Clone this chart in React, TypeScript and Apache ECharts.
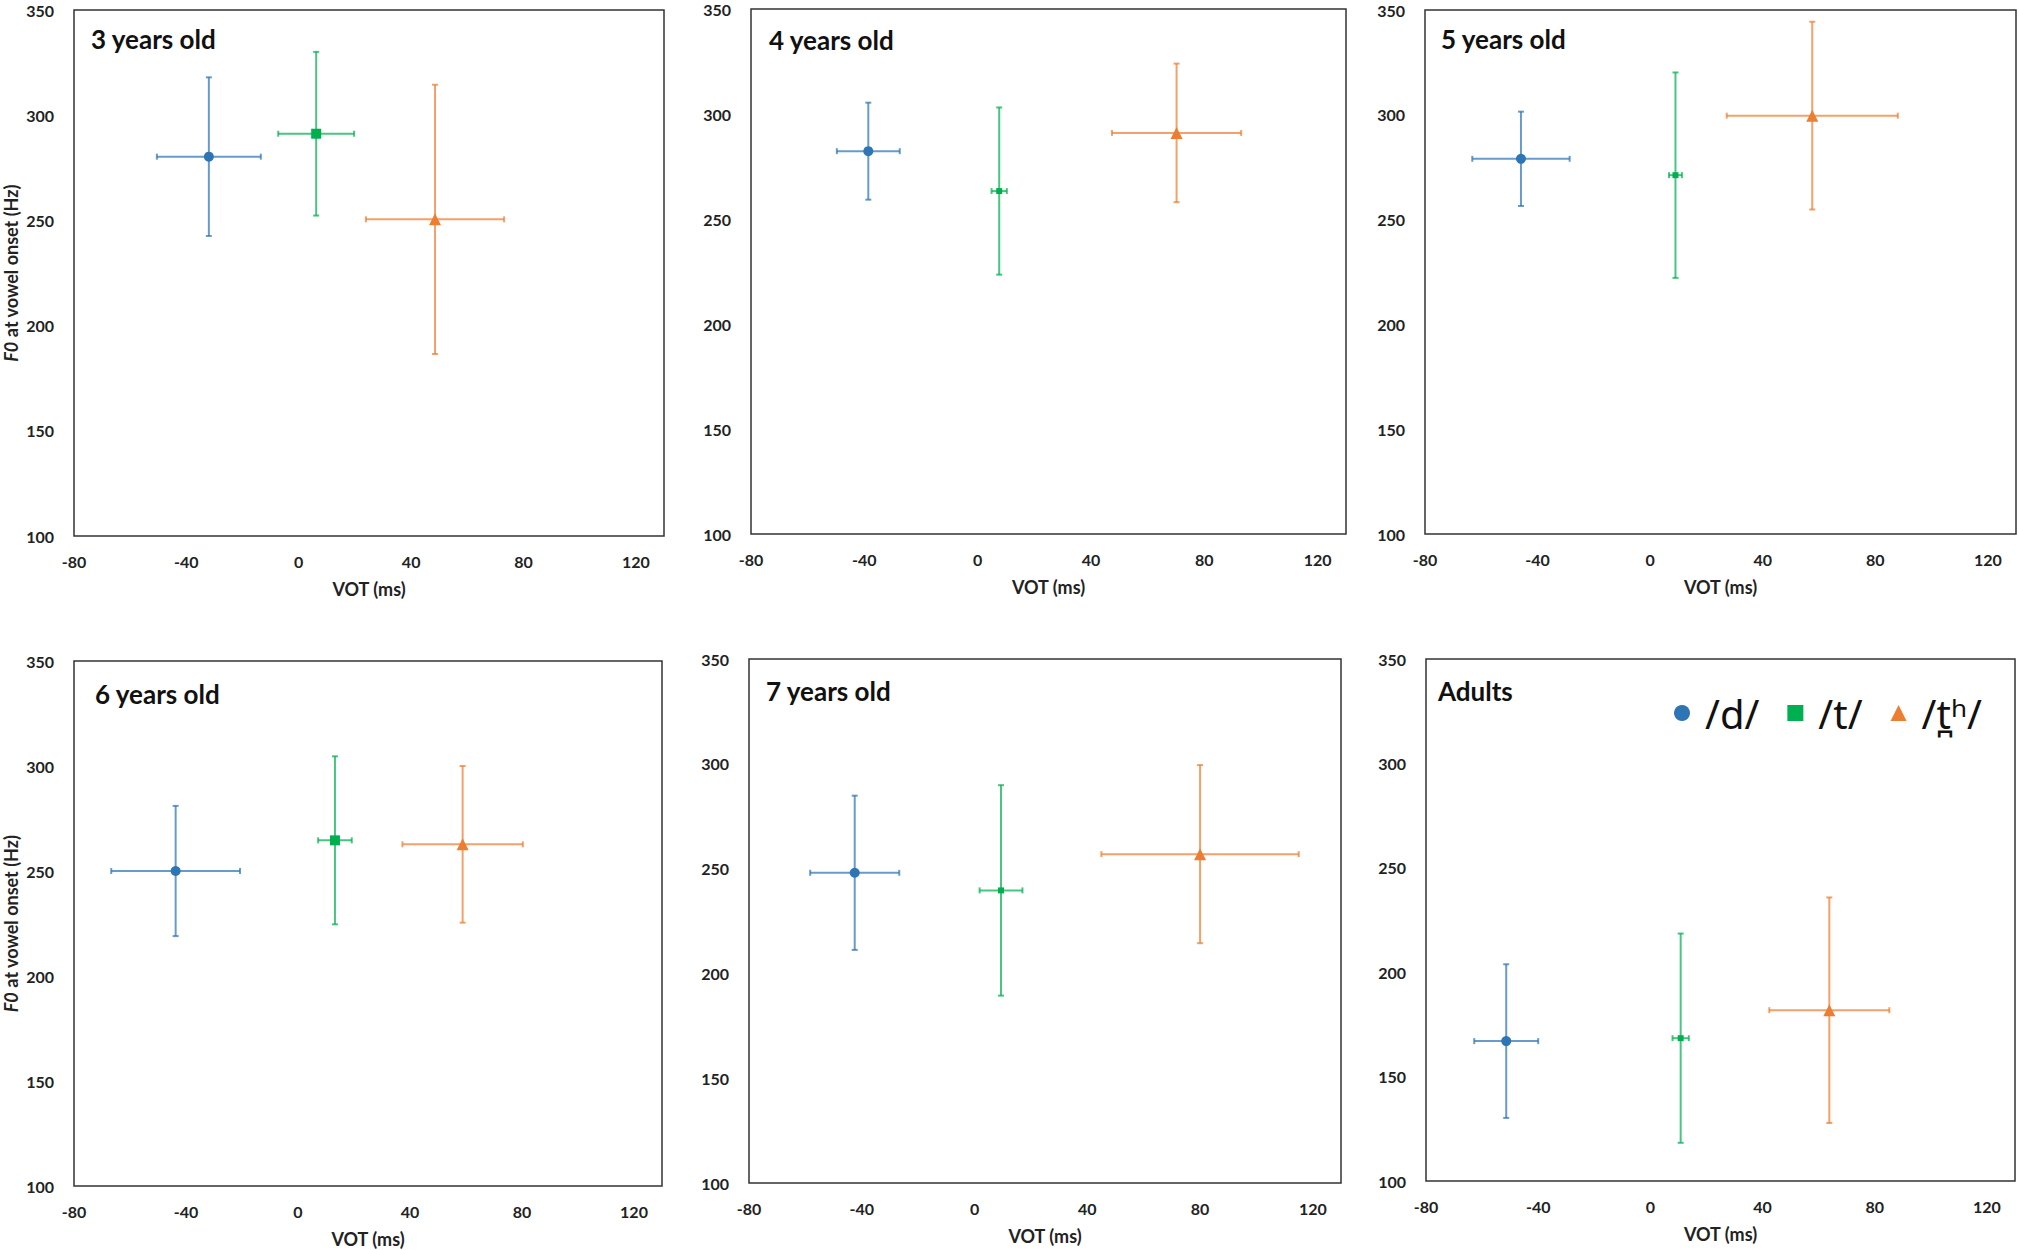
import React, { useEffect, useRef } from "react";
import * as echarts from "echarts";

// Panel titles
const panelTitles = ["3 years old", "4 years old", "5 years old", "6 years old", "7 years old", "Adults"];

// /d/ : mean VOT (ms), SD VOT, mean F0 (Hz), SD F0
const dVot = [-32, -38.6, -45.9, -43.7, -42.5, -51.4];
const dVotSd = [18.5, 11.1, 17.3, 23, 15.8, 11.4];
const dF0 = [280.3, 282.3, 279, 250, 248, 167];
const dF0Sd = [37.7, 23.1, 22.5, 31, 36.8, 36.8];

// /t/
const tVot = [6.2, 7.6, 9, 13.2, 9.4, 10.8];
const tVotSd = [13.5, 2.7, 2.3, 6, 7.6, 2.9];
const tF0 = [291.2, 263.3, 271.2, 264.6, 239.6, 168.4];
const tF0Sd = [38.9, 39.8, 49, 40, 50.2, 50.1];

// /t̪ʰ/
const thVot = [48.5, 70.2, 57.6, 58.8, 80, 63.8];
const thVotSd = [24.6, 22.8, 30.4, 21.5, 35, 21.4];
const thF0 = [250.5, 291, 299.6, 262.7, 256.9, 181.8];
const thF0Sd = [64, 33, 44.8, 37.3, 42.5, 54];

// Axis ticks
const xMin = -80;
const xMax = 130;
const xInterval = 40;
const yMin = 100;
const yMax = 350;
const yInterval = 50;

const legendNames = ["/d/", "/t/", "/t\u032A\u02B0/"];

// Layout (px)
const grids = [
  { left: 74, top: 10, width: 590, height: 526 },
  { left: 751, top: 9, width: 595, height: 525 },
  { left: 1425, top: 10, width: 591, height: 524 },
  { left: 74, top: 661, width: 588, height: 525 },
  { left: 749, top: 659, width: 592, height: 524 },
  { left: 1426, top: 659, width: 589, height: 522 },
];
const titlePos = [
  { left: 91, top: 26 },
  { left: 769, top: 27 },
  { left: 1441, top: 26 },
  { left: 95, top: 681 },
  { left: 766, top: 678 },
  { left: 1438, top: 678 },
];

const COLORS = ["#2E75B6", "#00B050", "#ED7D31"];
const SYMBOLS = ["circle", "rect", "triangle"];
const greenSizes = [10, 6, 6, 10, 6, 6];

const FONT = "Lato, 'Noto Sans', sans-serif";

export default function App() {
  const ref = useRef<HTMLDivElement>(null);

  useEffect(() => {
    if (!ref.current) return;
    const chart = echarts.init(ref.current, null, { renderer: "svg" });

    const groups = [
      { vot: dVot, votSd: dVotSd, f0: dF0, f0Sd: dF0Sd },
      { vot: tVot, votSd: tVotSd, f0: tF0, f0Sd: tF0Sd },
      { vot: thVot, votSd: thVotSd, f0: thF0, f0Sd: thF0Sd },
    ];

    const makeErrRender = (color: string) => (params: any, api: any) => {
      const x = api.value(0);
      const y = api.value(1);
      const xe = api.value(2);
      const ye = api.value(3);
      const L = api.coord([x - xe, y]);
      const R = api.coord([x + xe, y]);
      const T = api.coord([x, y + ye]);
      const B = api.coord([x, y - ye]);
      const cap = 3;
      const style = { stroke: color, lineWidth: 2, opacity: 0.72 };
      const ln = (x1: number, y1: number, x2: number, y2: number) => ({
        type: "line",
        shape: { x1, y1, x2, y2 },
        style,
      });
      return {
        type: "group",
        children: [
          ln(L[0], L[1], R[0], R[1]),
          ln(L[0], L[1] - cap, L[0], L[1] + cap),
          ln(R[0], R[1] - cap, R[0], R[1] + cap),
          ln(T[0], T[1], B[0], B[1]),
          ln(T[0] - cap, T[1], T[0] + cap, T[1]),
          ln(B[0] - cap, B[1], B[0] + cap, B[1]),
        ],
      };
    };

    const series: any[] = [];
    panelTitles.forEach((_, p) => {
      groups.forEach((g, k) => {
        series.push({
          type: "custom",
          name: "err" + p + "_" + k,
          xAxisIndex: p,
          yAxisIndex: p,
          z: 2,
          silent: true,
          encode: { x: 0, y: 1 },
          renderItem: makeErrRender(COLORS[k]),
          data: [[g.vot[p], g.f0[p], g.votSd[p], g.f0Sd[p]]],
        });
      });
      groups.forEach((g, k) => {
        const size = k === 0 ? 10 : k === 1 ? greenSizes[p] : 12;
        series.push({
          type: "scatter",
          name: legendNames[k],
          xAxisIndex: p,
          yAxisIndex: p,
          z: 5,
          symbol: SYMBOLS[k],
          symbolSize: size,
          itemStyle: { color: COLORS[k], opacity: 1 },
          data: [[g.vot[p], g.f0[p]]],
        });
      });
    });

    const labelStyle = {
      color: "#222",
      fontFamily: FONT,
      fontWeight: "bold" as const,
      fontSize: 16,
    };

    const option: any = {
      animation: false,
      backgroundColor: "#fff",
      textStyle: { fontFamily: FONT },
      title: panelTitles.map((t, i) => ({
        text: t,
        left: titlePos[i].left,
        top: titlePos[i].top,
        padding: 0,
        textStyle: { fontFamily: FONT, fontWeight: "bold", fontSize: 26, color: "#111" },
      })),
      legend: {
        left: 1669,
        top: 688,
        orient: "horizontal",
        itemWidth: 16,
        itemHeight: 16,
        itemGap: 28,
        selectedMode: false,
        data: legendNames.map((n, k) => ({ name: n, icon: SYMBOLS[k] })),
        textStyle: {
          fontFamily: "'Noto Sans', 'DejaVu Sans', sans-serif",
          fontSize: 40,
          color: "#111",
          padding: [0, 0, 0, 10],
        },
      },
      grid: grids.map((g) => ({
        ...g,
        show: true,
        borderColor: "#333",
        borderWidth: 1.5,
        backgroundColor: "transparent",
        containLabel: false,
      })),
      xAxis: grids.map((_, i) => ({
        type: "value",
        gridIndex: i,
        min: xMin,
        max: xMax,
        interval: xInterval,
        name: "VOT (ms)",
        nameLocation: "middle",
        nameGap: 44,
        nameTextStyle: { color: "#222", fontFamily: FONT, fontWeight: "bold", fontSize: 18 },
        axisLine: { show: false },
        axisTick: { show: false },
        splitLine: { show: false },
        axisLabel: {
          ...labelStyle,
          margin: 17,
          formatter: (v: number) => (v % xInterval === 0 ? String(v) : ""),
        },
      })),
      yAxis: grids.map((_, i) => ({
        type: "value",
        gridIndex: i,
        min: yMin,
        max: yMax,
        interval: yInterval,
        name: i === 0 || i === 3 ? "{i|F0} at vowel onset (Hz)" : "",
        nameLocation: "middle",
        nameGap: 54,
        nameTextStyle: {
          color: "#222",
          fontFamily: FONT,
          fontWeight: "bold",
          fontSize: 18,
          rich: {
            i: { fontStyle: "italic", fontWeight: "bold", fontSize: 18, fontFamily: FONT, color: "#222" },
          },
        },
        axisLine: { show: false },
        axisTick: { show: false },
        splitLine: { show: false },
        axisLabel: { ...labelStyle, margin: 20 },
      })),
      series,
    };

    chart.setOption(option);
    return () => chart.dispose();
  }, []);

  return (
    <div
      ref={ref}
      style={{ position: "fixed", left: 0, top: 0, width: 2019, height: 1250, background: "#fff" }}
    />
  );
}
